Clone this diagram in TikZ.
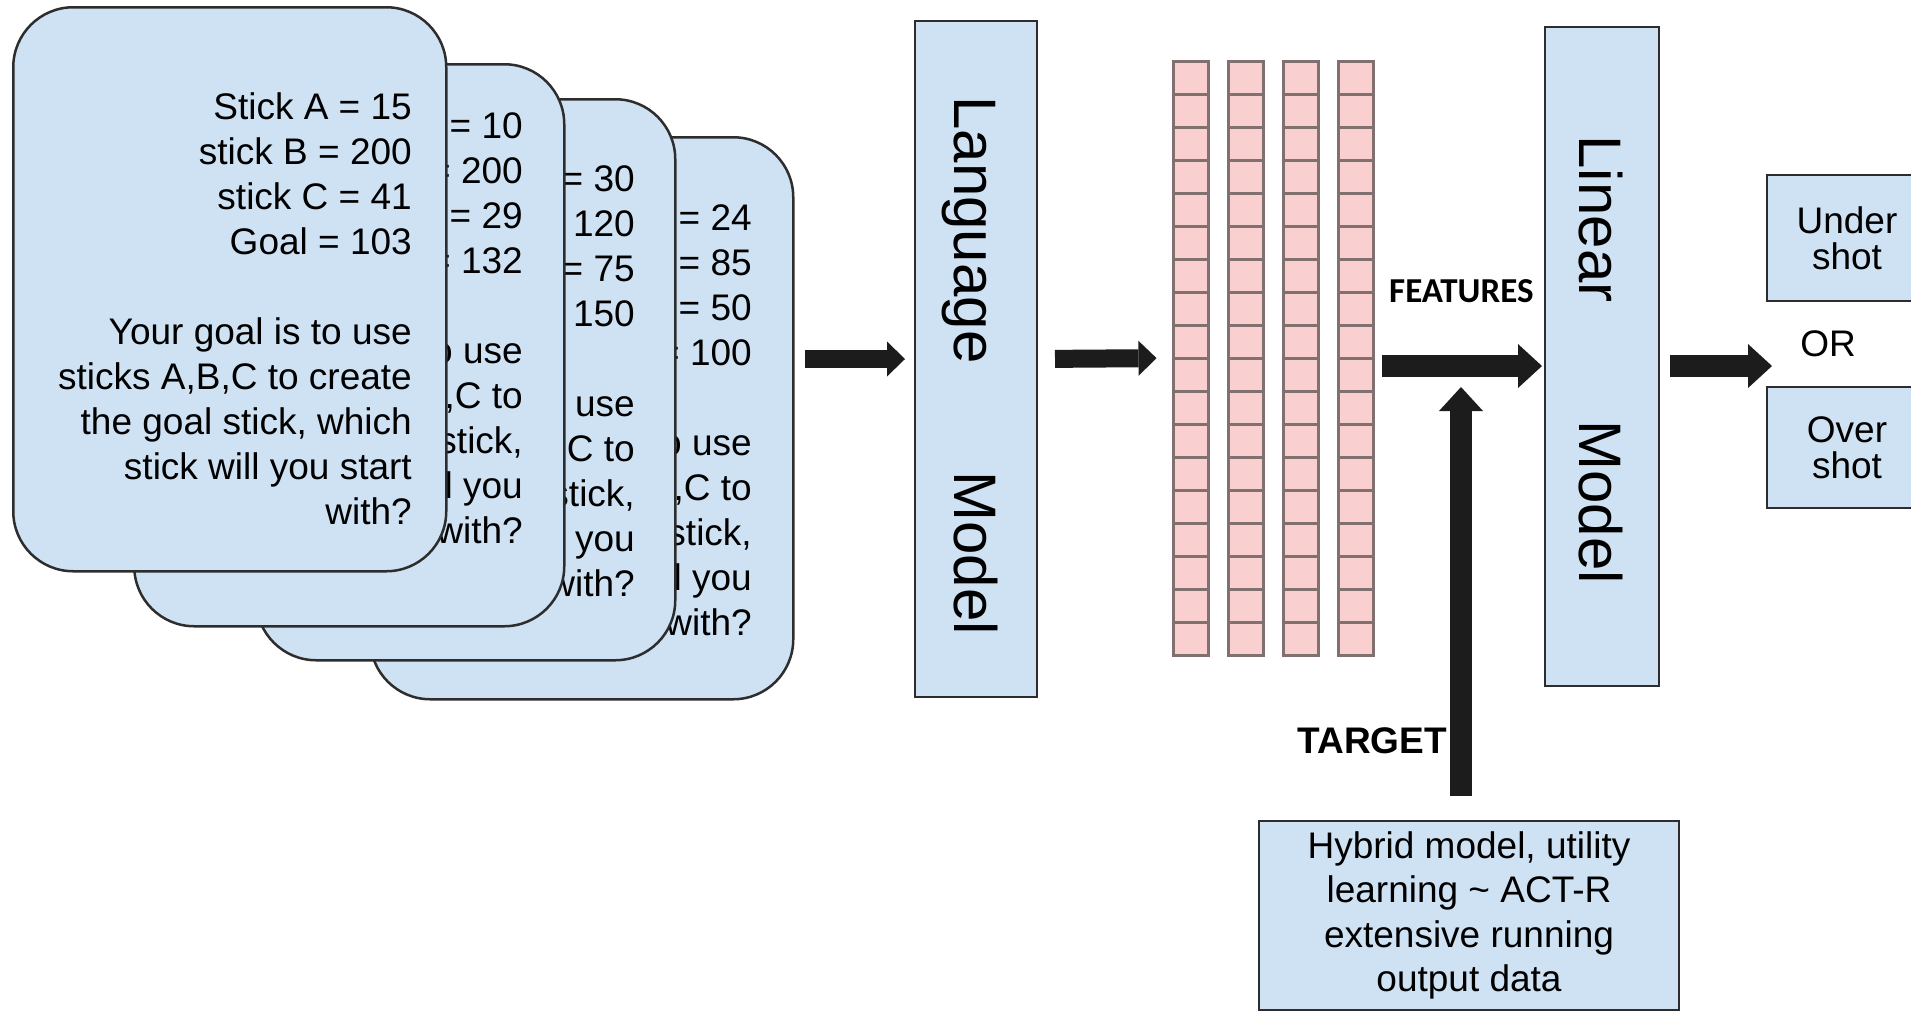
\documentclass[tikz,border=0pt]{standalone}
\usepackage{fontspec}
\setmainfont{Liberation Sans}
\newfontfamily\carlito{Carlito}
\usetikzlibrary{arrows.meta}
\definecolor{azzurro}{RGB}{207,226,243}
\definecolor{bordo}{RGB}{45,45,45}
\definecolor{rosa}{RGB}{250,207,207}
\definecolor{grigiocella}{RGB}{128,112,112}
\definecolor{nero}{RGB}{28,28,28}
\newcommand{\righecarta}[4]{%
  \foreach \k/\riga in {#4}
    \node[riga] (#1-\k) at (#2, #3+45*\k) {\riga};
}

\begin{document}
\begin{tikzpicture}[x=1pt, y=-1pt,
    carta/.style = {draw=bordo, line width=2.5pt, fill=azzurro, rounded corners=60pt, anchor=north west, inner sep=0pt},
    riga/.style = {anchor=base east, inner sep=0pt, font=\fontsize{37}{45}\selectfont},
    blocco/.style = {draw=bordo, line width=2pt, fill=azzurro, inner sep=0pt},
    vettore/.style = {draw=grigiocella, line width=3pt, fill=rosa, minimum width=35pt, minimum height=594pt, inner sep=0pt},
    ruotato/.style = {rotate=-90, anchor=base, inner sep=0pt, font=\fontsize{60}{60}\selectfont},
    freccia/.style = {draw=nero, line width=18pt, -{Triangle[length=18pt, width=35pt, line width=0pt]}},
    frecciona/.style = {draw=nero, line width=22pt, -{Triangle[length=24pt, width=44pt, line width=0pt]}}
  ]
    % Parametri
    \pgfmathsetmacro{\passo}{33}
    \pgfmathsetmacro{\freccey}{366}

    \useasboundingbox (0,0) rectangle (1911,1013);
    \clip (0,0) rectangle (1911,1013);
    \fill[white] (0,0) rectangle (1911,1013);

    % Carte, dalla piu' lontana
    \node[carta, minimum width=423pt, minimum height=562pt] (carta4) at (369,136) {};
    \righecarta{c4}{752}{230}{0/Stick A = 24,
      1/stick B = 85,
      2/stick C = 50,
      3/Goal = 100,
      5/Your goal is to use,
      6/{sticks A,B,C to},
      7/{create the goal stick,},
      8/which stick will you,
      9/start with?}
    \node[carta, minimum width=419pt, minimum height=561pt] (carta3) at (255,98) {};
    \righecarta{c3}{635}{191}{0/Stick A = 30,
      1/stick B = 120,
      2/stick C = 75,
      3/Goal = 150,
      5/Your goal is to use,
      6/{sticks A,B,C to},
      7/{create the goal stick,},
      8/which stick will you,
      9/start with?}
    \node[carta, minimum width=430pt, minimum height=562pt] (carta2) at (133,63) {};
    \righecarta{c2}{523}{138}{0/Stick A = 10,
      1/stick B = 200,
      2/stick C = 29,
      3/Goal = 132,
      5/Your goal is to use,
      6/{sticks A,B,C to},
      7/{create the goal stick,},
      8/which stick will you,
      9/start with?}
    \node[carta, minimum width=433pt, minimum height=564pt] (carta1) at (12,6) {};
    \righecarta{c1}{412}{119}{0/Stick A = 15,
      1/stick B = 200,
      2/stick C = 41,
      3/Goal = 103,
      5/Your goal is to use,
      6/{sticks A,B,C to create},
      7/{the goal stick, which},
      8/stick will you start,
      9/with?}

    % Language model
    \node[blocco, minimum width=122pt, minimum height=676pt] (lm) at (976,359) {};
    \node[ruotato] (lmtesto1) at (954,230) {Language};
    \node[ruotato] (lmtesto2) at (954,553) {Model};

    % Vettori di feature
    \foreach \c in {1,...,4} {
      \pgfmathsetmacro{\xc}{1190.5+55.3*(\c-1)}
      \node[vettore] (vett\c) at (\xc,358) {};
      \foreach \r in {1,...,17}
        \draw[grigiocella, line width=3pt] (\xc-17.5, 61+\passo*\r) -- (\xc+17.5, 61+\passo*\r);
    }
    \node[anchor=base west, inner sep=0pt, font=\carlito\bfseries\fontsize{35}{40}\selectfont] (feat) at (1389,302) {FEATURES};

    % Linear model
    \node[blocco, minimum width=114pt, minimum height=659pt] (lin) at (1602,356.5) {};
    \node[ruotato] (lintesto1) at (1579,219) {Linear};
    \node[ruotato] (lintesto2) at (1579,502) {Model};

    % Uscite
    \node[blocco, anchor=north west, minimum width=160pt, minimum height=126pt, align=center, font=\fontsize{37}{36}\selectfont] (sotto) at (1766,174) {Under\\shot};
    \node[font=\fontsize{37}{40}\selectfont, inner sep=0pt] (oppure) at (1828,344) {OR};
    \node[blocco, anchor=north west, minimum width=160pt, minimum height=121pt, align=center, font=\fontsize{37}{36}\selectfont] (sopra) at (1766,386) {Over\\shot};

    % Target
    \node[blocco, minimum width=420pt, minimum height=189pt, align=center, font=\fontsize{37}{44.5}\selectfont] (ibrido) at (1469,915.5) {Hybrid model, utility\\learning \textasciitilde{} ACT-R\\extensive running\\output data};
    \node[anchor=base east, inner sep=0pt, font=\bfseries\fontsize{37}{40}\selectfont] (target) at (1447,753) {TARGET};

    % Frecce
    \coordinate (quota) at (0,\freccey);
    \coordinate (asse) at (1461,0);
    \draw[freccia, shorten <=10pt, shorten >=9pt] (carta4.east |- lm.west) -- (lm.west);
    \draw[freccia, shorten <=17pt, shorten >=15pt] (lm.east) -- (vett1.west);
    \draw[frecciona, shorten <=7pt, shorten >=2pt] (vett4.east |- quota) -- (lin.west |- quota);
    \draw[frecciona, shorten <=10pt, shorten >=-6pt] (lin.east |- quota) -- (sotto.west |- quota);
    \draw[frecciona, shorten <=24pt, shorten >=21pt] (ibrido.north -| asse) -- (quota -| asse);
\end{tikzpicture}
\end{document}
